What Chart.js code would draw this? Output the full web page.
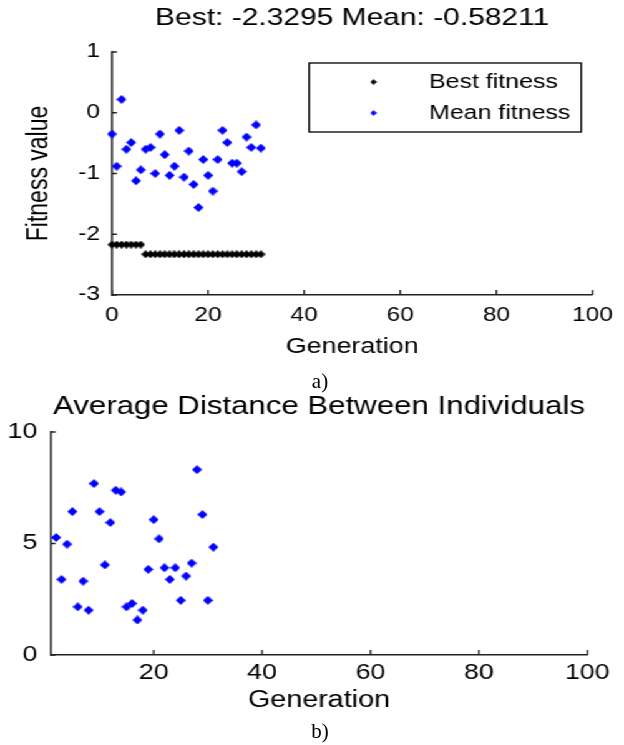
<!DOCTYPE html>
<html>
<head>
<meta charset="utf-8">
<script src="https://cdn.jsdelivr.net/npm/chart.js@4.4.1/dist/chart.umd.min.js"></script>
<style>
  body { margin: 0; width: 624px; height: 745px; overflow: hidden; background: #fff; }
  /* the source figure is stretched sideways, so the charts are drawn narrow and widened */
  #stretch { position: absolute; left: 0; top: 0; width: 500px; height: 745px; transform: scaleX(1.248); transform-origin: 0 0; }
  #boxA { position: absolute; left: 0; top: 0; width: 500px; height: 372px; }
  #boxB { position: absolute; left: 0; top: 390px; width: 500px; height: 330px; }
  .cap { position: absolute; width: 60px; text-align: center; font-family: 'Liberation Serif', 'Times New Roman', serif; font-size: 21px; color: #000; }
</style>
</head>
<body>
<div id="stretch">
  <div id="boxA"><canvas id="fitness-chart"></canvas></div>
  <div id="boxB"><canvas id="distance-chart"></canvas></div>
</div>
<div class="cap" style="left:290px;top:369px">a)</div>
<div class="cap" style="left:290px;top:719px">b)</div>

<script>
const generations = [0, 1, 2, 3, 4, 5, 6, 7, 8, 9, 10, 11, 12, 13, 14, 15, 16, 17, 18, 19, 20, 21, 22, 23, 24, 25, 26, 27, 28, 29, 30, 31];
const bestFitness = [-2.17, -2.17, -2.17, -2.17, -2.17, -2.17, -2.17,
  -2.3295, -2.3295, -2.3295, -2.3295, -2.3295, -2.3295, -2.3295, -2.3295, -2.3295, -2.3295, -2.3295, -2.3295,
  -2.3295, -2.3295, -2.3295, -2.3295, -2.3295, -2.3295, -2.3295, -2.3295, -2.3295, -2.3295, -2.3295, -2.3295, -2.3295];
const meanFitness = [-0.35, -0.88, 0.22, -0.60, -0.49, -1.12, -0.94, -0.60, -0.57, -1.00, -0.35, -0.69, -1.03, -0.88, -0.29, -1.06,
  -0.63, -1.18, -1.56, -0.77, -1.03, -1.29, -0.77, -0.29, -0.49, -0.83, -0.83, -0.97, -0.40, -0.57, -0.20, -0.58211];

const distGenerations = [2, 3, 4, 5, 6, 7, 8, 9, 10, 11, 12, 13, 14, 15, 16, 17, 18, 19, 20, 21, 22, 23, 24, 25, 26, 27, 28, 29, 30, 31];
const avgDistance = [5.27, 3.39, 4.97, 6.43, 2.16, 3.31, 2.01, 7.69, 6.43, 4.04, 5.94, 7.39, 7.31, 2.16, 2.31,
  1.57, 2.01, 3.84, 6.07, 5.21, 3.91, 3.39, 3.91, 2.45, 3.54, 4.12, 8.31, 6.30, 2.45, 4.84];
const distTicks = [20, 40, 60, 80, 100];

const fontFamily = '"Liberation Sans", Arial, sans-serif';
const textColor = '#000';
const axisColor = '#222';

function diamond(w, h, color) {
  const c = document.createElement('canvas');
  c.width = w; c.height = h;
  const g = c.getContext('2d');
  g.fillStyle = color;
  g.beginPath();
  g.moveTo(w / 2, 0); g.lineTo(w, h / 2); g.lineTo(w / 2, h); g.lineTo(0, h / 2);
  g.closePath();
  g.fill();
  return c;
}

const blueMark = diamond(8, 9, '#0000ff');
const blackMark = diamond(7, 8, '#000000');
const legendMarks = [diamond(5, 6, '#000000'), diamond(5, 6, '#0000ff')];

function points(xs, ys) {
  return xs.map((x, i) => ({x: x, y: ys[i]}));
}

// matlab style tick marks pointing into the axes
const innerTicks = {
  id: 'innerTicks',
  afterDraw(chart) {
    const {ctx, chartArea} = chart;
    const xs = chart.scales.x, ys = chart.scales.y;
    ctx.save();
    ctx.strokeStyle = axisColor;
    ctx.lineWidth = 1.3;
    ctx.beginPath();
    xs.ticks.forEach(t => {
      const px = xs.getPixelForValue(t.value);
      ctx.moveTo(px, chartArea.bottom);
      ctx.lineTo(px, chartArea.bottom - 5);
    });
    ys.ticks.forEach(t => {
      const py = ys.getPixelForValue(t.value);
      ctx.moveTo(chartArea.left, py);
      ctx.lineTo(chartArea.left + 4, py);
    });
    ctx.stroke();
    ctx.restore();
  }
};

const boxLegend = {
  id: 'boxLegend',
  afterDraw(chart) {
    const {ctx, chartArea} = chart;
    const w = 218, h = 69;
    const left = chartArea.right - 9 - w, top = chartArea.top + 11;
    ctx.save();
    ctx.fillStyle = '#fff';
    ctx.fillRect(left, top, w, h);
    ctx.strokeStyle = '#000';
    ctx.lineWidth = 1.3;
    ctx.strokeRect(left, top, w, h);
    ctx.font = '20px ' + fontFamily;
    ctx.textBaseline = 'middle';
    chart.data.datasets.forEach((ds, i) => {
      const rowY = top + 19 + i * 31;
      const m = legendMarks[i];
      ctx.drawImage(m, left + 51.5 - m.width / 2, rowY - m.height / 2);
      ctx.fillStyle = textColor;
      ctx.fillText(ds.label, left + 96, rowY);
    });
    ctx.restore();
  }
};

function tickFont(size) {
  return {size: size, family: fontFamily};
}

new Chart(document.getElementById('fitness-chart').getContext('2d'), {
  type: 'scatter',
  data: {
    datasets: [{
      label: 'Best fitness',
      data: points(generations, bestFitness),
      pointStyle: blackMark,
      pointRadius: 4,
      clip: false
    }, {
      label: 'Mean fitness',
      data: points(generations, meanFitness),
      pointStyle: blueMark,
      pointRadius: 4,
      clip: false
    }]
  },
  options: {
    responsive: true,
    maintainAspectRatio: false,
    animation: false,
    layout: {padding: {left: 0, right: 20.8, top: 0, bottom: 0}},
    plugins: {
      legend: {display: false},
      tooltip: {enabled: false},
      title: {
        display: true,
        fullSize: false,
        text: 'Best: ' + bestFitness[bestFitness.length - 1] + ' Mean: ' + meanFitness[meanFitness.length - 1],
        color: textColor,
        font: {size: 24, weight: 'normal', family: fontFamily},
        padding: {top: 3.6, bottom: 19.6}
      }
    },
    scales: {
      x: {
        type: 'linear',
        min: 0,
        max: 100,
        ticks: {stepSize: 20, color: textColor, font: tickFont(19.5), padding: 9, maxRotation: 0},
        grid: {display: false, drawTicks: false},
        border: {color: axisColor, width: 1.5},
        title: {display: true, text: 'Generation', color: textColor, font: tickFont(21.5), padding: {top: 0, bottom: 12.1}},
        afterFit(s) { s.height = 77; }
      },
      y: {
        min: -3,
        max: 1,
        ticks: {stepSize: 1, color: textColor, font: tickFont(19.5), padding: 9.6},
        grid: {display: false, drawTicks: false},
        border: {color: axisColor, width: 1.5},
        title: {display: true, text: 'Fitness value', color: textColor, font: tickFont(23), padding: {top: 18.2, bottom: 0}},
        afterFit(s) { s.width = 89.7; }
      }
    }
  },
  plugins: [innerTicks, boxLegend]
});

new Chart(document.getElementById('distance-chart').getContext('2d'), {
  type: 'scatter',
  data: {
    datasets: [{
      label: 'Average distance',
      data: points(distGenerations, avgDistance),
      pointStyle: blueMark,
      pointRadius: 4,
      clip: false
    }]
  },
  options: {
    responsive: true,
    maintainAspectRatio: false,
    animation: false,
    layout: {padding: {left: 0, right: 29.4, top: 0, bottom: 0}},
    plugins: {
      legend: {display: false},
      tooltip: {enabled: false},
      title: {
        display: true,
        fullSize: false,
        text: 'Average Distance Between Individuals',
        color: textColor,
        font: {size: 25, weight: 'normal', family: fontFamily},
        padding: {top: 2, bottom: 10}
      }
    },
    scales: {
      x: {
        type: 'linear',
        min: 1,
        max: 100,
        afterBuildTicks(s) { s.ticks = distTicks.map(v => ({value: v})); },
        ticks: {color: textColor, font: tickFont(21.5), padding: 5, maxRotation: 0},
        grid: {display: false, drawTicks: false},
        border: {color: axisColor, width: 1.5},
        title: {display: true, text: 'Generation', color: textColor, font: tickFont(23), padding: {top: 0, bottom: 5.7}},
        afterFit(s) { s.height = 65; }
      },
      y: {
        min: 0,
        max: 10,
        ticks: {stepSize: 5, color: textColor, font: tickFont(21.5), padding: 10.6},
        grid: {display: false, drawTicks: false},
        border: {color: axisColor, width: 1.5},
        afterFit(s) { s.width = 40.6; }
      }
    }
  },
  plugins: [innerTicks]
});
</script>
</body>
</html>
